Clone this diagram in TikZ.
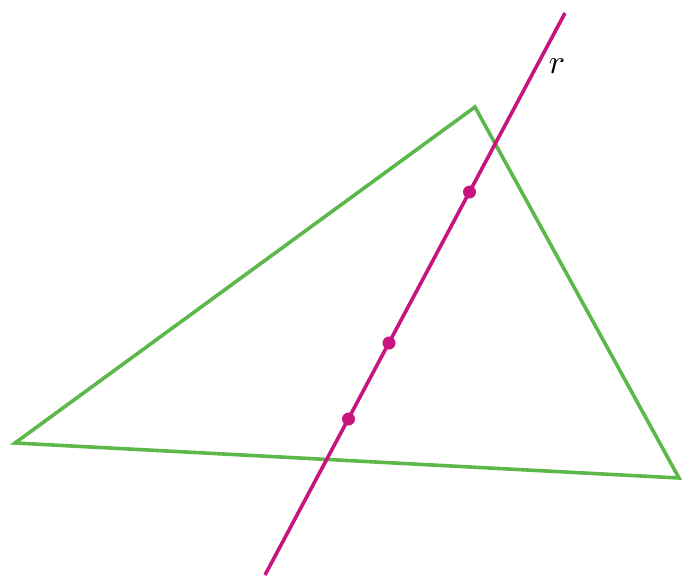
\documentclass[tikz,border=0pt]{standalone}
\usepackage{xcolor}
\usepackage{graphicx}
\definecolor{trigreen}{HTML}{5DB84B}
\definecolor{linemag}{HTML}{C8147E}
\begin{document}
\begin{tikzpicture}[x=1pt,y=-1pt,
  tri/.style={draw=trigreen,line width=3.6pt,line join=miter},
  rline/.style={draw=linemag,line width=3.6pt},
  pt/.style={circle,fill=linemag,inner sep=0pt,minimum size=13pt}]
\useasboundingbox (0,0) rectangle (690,584);
\coordinate (A) at (15,443);
\coordinate (B) at (475,107);
\coordinate (C) at (679,478);
\draw[tri] (A) -- (B) -- (C) -- cycle;
\coordinate (T) at (565,13);
\coordinate (U) at (265,575);
\draw[rline] (T) -- (U);
\node[pt] (p1) at (469.5,192) {};
\node[pt] (p2) at (389,343) {};
\node[pt] (p3) at (348.5,419) {};
\node (r) at (557,66) {\scalebox{3.4}{$r$}};
\end{tikzpicture}
\end{document}
